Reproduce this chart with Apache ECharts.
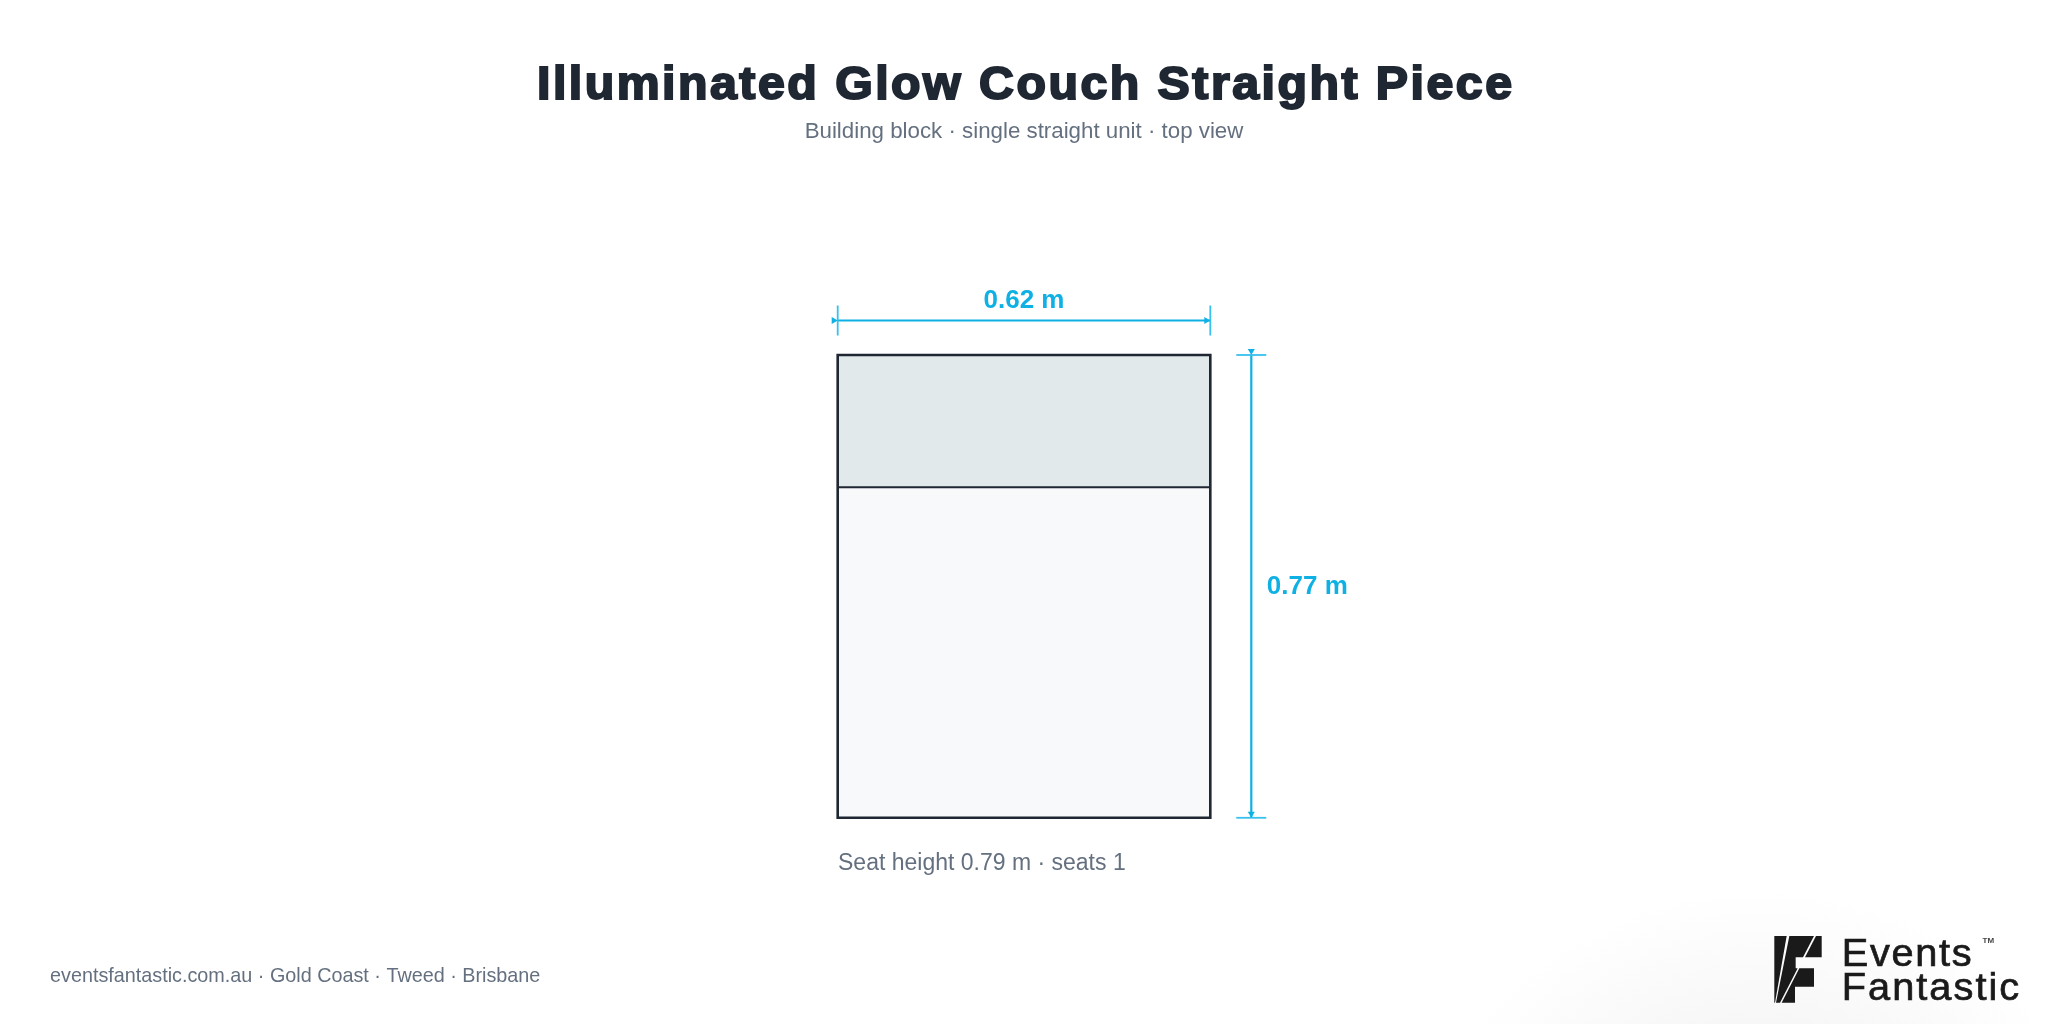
<!DOCTYPE html>
<html><head><meta charset="utf-8">
<style>html,body{margin:0;padding:0;background:#fff}#c{width:2048px;height:1024px}</style>
<script src="https://cdn.jsdelivr.net/npm/echarts@6/dist/echarts.min.js"></script>
</head><body><div id="c"></div>
<script>
const titleText = 'Illuminated Glow Couch Straight Piece';
const subtitleText = 'Building block · single straight unit · top view';
const captionText = 'Seat height 0.79 m · seats 1';
const footerText = 'eventsfantastic.com.au · Gold Coast · Tweed · Brisbane';
const unitWidth = 0.62;
const unitDepth = 0.77;
const backDepth = 0.22;
const unitParts = [
  [0, 0, unitWidth, backDepth, 'back'],
  [0, backDepth, unitWidth, unitDepth, 'seat']
];
const dimensions = [
  [0, 0, unitWidth, 0, unitWidth],
  [unitWidth, 0, unitWidth, unitDepth, unitDepth]
];
const CY = '#0fb0e3', CL = '#36c1ee', INK = '#1f2733', GREY = '#64707f';
const FILL = {back:'#e2e9ea', seat:'#f7f9fa'};

const chart = echarts.init(document.getElementById('c'), null, {width:2048, height:1024});

const mctx = document.createElement('canvas').getContext('2d');
function spaced(text, left, targetW, y, font, fill, stroke, lw, sx){
  mctx.font = font;
  const natural = mctx.measureText(text).width * sx;
  const gap = (targetW - natural) / (text.length - 1);
  const out = [];
  for(let i=0;i<text.length;i++){
    if(text[i]===' ') continue;
    const x = left + mctx.measureText(text.slice(0,i)).width * sx + gap*i;
    out.push({type:'text', z:5, silent:true, x, y, scaleX:sx, scaleY:1,
      style:{text:text[i], align:'left', verticalAlign:'middle', font, fill, stroke, lineWidth:lw}});
  }
  return out;
}
function logoPoly(pts){
  return {type:'polygon', z:5, silent:true,
    shape:{points:pts.map(p=>[1765+p[0]/3, 930+p[1]/3])}, style:{fill:'#1a1a1a'}};
}
function arrowPts(x,y,dir){
  return dir==='h' ? [[x,y],[x-6,y-3.5],[x-6,y+3.5]] : [[x,y],[x-3.5,y-6],[x+3.5,y-6]];
}

const option = {
  animation:false,
  backgroundColor:'#ffffff',
  grid:{left:837.7, top:355, width:372.6, height:462.8, show:false},
  xAxis:{type:'value', min:0, max:unitWidth, show:false},
  yAxis:{type:'value', min:0, max:unitDepth, inverse:true, show:false},
  graphic:[
    {type:'rect', z:0, silent:true, shape:{x:1473,y:889,width:575,height:135},
     style:{fill:new echarts.graphic.RadialGradient(0.5,2.67,2.67,[
       {offset:0,color:'#f2f2f2'},{offset:0.626,color:'#f7f7f7'},{offset:1,color:'#ffffff'}])}},
    ...spaced(titleText, 537, 975, 86.5, '900 46px "Liberation Sans"', INK, INK, 2, 1.05),
    {type:'text', z:5, silent:true, x:1024, y:132, style:{text:subtitleText, align:'center', verticalAlign:'middle',
      font:'22.3px "Liberation Sans"', fill:GREY}},
    {type:'text', z:5, silent:true, x:838, y:863.5, style:{text:captionText, align:'left', verticalAlign:'middle',
      font:'23px "Liberation Sans"', fill:GREY}},
    {type:'text', z:5, silent:true, x:50, y:976.5, style:{text:footerText, align:'left', verticalAlign:'middle',
      font:'19.8px "Liberation Sans"', fill:GREY}},
    logoPoly([[28,18],[65,18],[30,218],[28,218]]),
    logoPoly([[73,18],[147,18],[114,82],[92,82],[92,115],[98,115],[45,218],[33,218]]),
    logoPoly([[153,18],[170,18],[170,82],[120,82]]),
    logoPoly([[103,115],[147,115],[147,170],[90,170],[90,218],[50,218]]),
    ...spaced('Events', 1841.7, 130, 955, '39px "Liberation Sans"', '#1a1a1a', '#1a1a1a', 0.7, 1.02),
    ...spaced('Fantastic', 1841.7, 177.5, 989, '39px "Liberation Sans"', '#1a1a1a', '#1a1a1a', 0.7, 1.02),
    {type:'text', z:5, silent:true, x:1982.5, y:941, style:{text:'TM', align:'left', verticalAlign:'middle',
      font:'bold 8px "Liberation Sans"', fill:'#444'}}
  ],
  series:[
    {
      type:'custom', coordinateSystem:'cartesian2d', clip:false, z:2, silent:true,
      data:unitParts,
      encode:{x:[0,2], y:[1,3]},
      renderItem(params, api){
        const a = api.coord([api.value(0), api.value(1)]);
        const b = api.coord([api.value(2), api.value(3)]);
        const kind = unitParts[params.dataIndex][4];
        return {type:'rect', shape:{x:a[0], y:a[1], width:b[0]-a[0], height:b[1]-a[1]},
          style:{fill:FILL[kind], stroke:null}};
      }
    },
    {
      type:'custom', coordinateSystem:'cartesian2d', clip:false, z:3, silent:true,
      data:[[0, backDepth, unitWidth, backDepth]],
      encode:{x:[0,2], y:[1,3]},
      renderItem(params, api){
        const a = api.coord([api.value(0), api.value(1)]);
        const b = api.coord([api.value(2), api.value(3)]);
        return {type:'line', shape:{x1:a[0], y1:a[1], x2:b[0], y2:b[1]}, style:{stroke:INK, lineWidth:1.8}};
      }
    },
    {
      type:'custom', coordinateSystem:'cartesian2d', clip:false, z:4, silent:true,
      data:[[0, 0, unitWidth, unitDepth]],
      encode:{x:[0,2], y:[1,3]},
      renderItem(params, api){
        const a = api.coord([api.value(0), api.value(1)]);
        const b = api.coord([api.value(2), api.value(3)]);
        return {type:'rect', shape:{x:a[0], y:a[1], width:b[0]-a[0], height:b[1]-a[1]},
          style:{fill:'transparent', stroke:INK, lineWidth:2.6}};
      }
    },
    {
      type:'custom', coordinateSystem:'cartesian2d', clip:false, z:4, silent:true,
      data:dimensions,
      encode:{x:[0,2], y:[1,3]},
      renderItem(params, api){
        const a = api.coord([api.value(0), api.value(1)]);
        const b = api.coord([api.value(2), api.value(3)]);
        const label = api.value(4).toFixed(2)+' m';
        const horizontal = params.dataIndex===0;
        const ln = (x1,y1,x2,y2,w,c)=>({type:'line', shape:{x1,y1,x2,y2}, style:{stroke:c,lineWidth:w}});
        const tri = (x,y,d)=>({type:'polygon', shape:{points:arrowPts(x,y,d)}, style:{fill:CY}});
        const font = 'bold 26px "Liberation Sans"';
        if(horizontal){
          const y = a[1]-34.5;
          return {type:'group', children:[
            ln(a[0],y,b[0],y,2.2,CY),
            ln(a[0],y-15,a[0],y+15,1.8,CL),
            ln(b[0],y-15,b[0],y+15,1.8,CL),
            tri(a[0],y,'h'), tri(b[0],y,'h'),
            {type:'text', x:(a[0]+b[0])/2, y:y-19.5, style:{text:label, align:'center', verticalAlign:'middle', font, fill:CY}}
          ]};
        }
        const x = a[0]+41;
        return {type:'group', children:[
          ln(x,a[1],x,b[1],2.2,CY),
          ln(x-15,a[1],x+15,a[1],1.8,CL),
          ln(x-15,b[1],x+15,b[1],1.8,CL),
          tri(x,a[1],'v'), tri(x,b[1],'v'),
          {type:'text', x:x+15.5, y:(a[1]+b[1])/2, style:{text:label, align:'left', verticalAlign:'middle', font, fill:CY}}
        ]};
      }
    }
  ]
};
chart.setOption(option);
</script></body></html>
